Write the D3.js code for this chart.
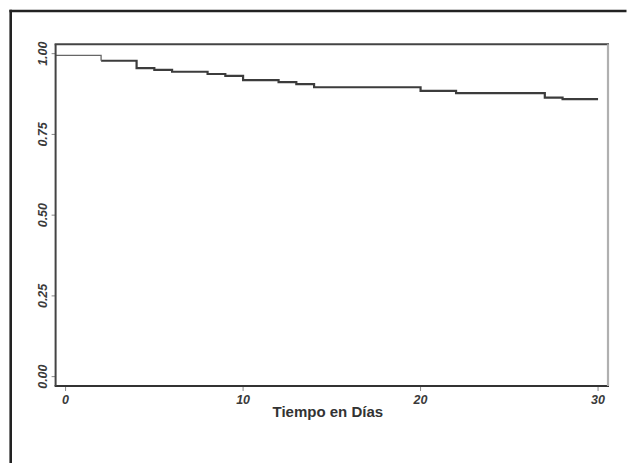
<!DOCTYPE html>
<html lang="es">
<head>
  <meta charset="UTF-8">
  <title>Kaplan-Meier</title>
  <script src="https://d3js.org/d3.v7.min.js"></script>
  <style>
    html, body { margin: 0; background: #fff; overflow: hidden; }
    svg { display: block; }
    .tick-lbl { font-family: 'Liberation Sans', Arial, sans-serif; font-weight: bold; font-style: italic; font-size: 12.5px; fill: #3a3a3a; }
    .axis-title { font-family: 'Liberation Sans', Arial, sans-serif; font-weight: bold; font-size: 15px; fill: #333; }
  </style>
</head>
<body>
<div id="chart"></div>
<script>
  // step times (days) and survival after each step
  const times = [0, 2, 4, 5, 6, 8, 9, 10, 12, 13, 14, 20, 22, 27, 28];
  const survival = [0.995, 0.978, 0.955, 0.950, 0.944, 0.937, 0.931, 0.918, 0.912, 0.906, 0.896, 0.885, 0.878, 0.864, 0.859];
  const endTime = 30;
  const xTicks = [0, 10, 20, 30];
  const yTicks = [0, 0.25, 0.5, 0.75, 1];
  const xTitle = "Tiempo en Días";

  const W = 627, H = 463;
  const plot = { left: 55.6, top: 44.3, right: 608, bottom: 386 };

  const svg = d3.select("#chart").append("svg").attr("width", W).attr("height", H);

  // outer frame, only top and left edges are in view
  svg.append("line").attr("x1", 10.7).attr("x2", 10.7).attr("y1", 9.7).attr("y2", H)
    .attr("stroke", "#222").attr("stroke-width", 2.6);
  svg.append("line").attr("x1", 9.4).attr("x2", W - 0.5).attr("y1", 11).attr("y2", 11)
    .attr("stroke", "#222").attr("stroke-width", 2.6);

  const x = d3.scaleLinear().domain([-0.563, 30.56]).range([plot.left, plot.right]);
  const y = d3.scaleLinear().domain([-0.029, 1.029]).range([plot.bottom, plot.top]);

  // ticks
  svg.append("g").selectAll("line").data(xTicks).join("line")
    .attr("x1", d => x(d)).attr("x2", d => x(d))
    .attr("y1", plot.bottom).attr("y2", plot.bottom + 5)
    .attr("stroke", "#888").attr("stroke-width", 1);
  svg.append("g").selectAll("line").data(yTicks).join("line")
    .attr("x1", plot.left - 4).attr("x2", plot.left)
    .attr("y1", d => y(d)).attr("y2", d => y(d))
    .attr("stroke", "#888").attr("stroke-width", 1);

  svg.append("g").selectAll("text").data(xTicks).join("text")
    .attr("class", "tick-lbl")
    .attr("x", d => x(d)).attr("y", plot.bottom + 18)
    .attr("text-anchor", "middle")
    .text(d => d);

  svg.append("g").selectAll("text").data(yTicks).join("text")
    .attr("class", "tick-lbl")
    .attr("transform", d => `translate(${plot.left - 9},${y(d)}) rotate(-90)`)
    .attr("text-anchor", "middle")
    .text(d => d3.format(".2f")(d));

  svg.append("text")
    .attr("class", "axis-title")
    .attr("x", (plot.left + plot.right) / 2 - 4)
    .attr("y", plot.bottom + 31)
    .attr("text-anchor", "middle")
    .text(xTitle);

  // survival step curve
  const pts = times.map((t, i) => [t, survival[i]]);
  pts.push([endTime, survival[survival.length - 1]]);
  pts[0] = [x.domain()[0], survival[0]];
  const line = d3.line().x(d => x(d[0])).y(d => y(d[1])).curve(d3.curveStepAfter);
  svg.append("path")
    .attr("d", line(pts.slice(1)))
    .attr("fill", "none").attr("stroke", "#3c3c3c").attr("stroke-width", 2.2);
  svg.append("path")
    .attr("d", line(pts.slice(0, 2)))
    .attr("fill", "none").attr("stroke", "#666").attr("stroke-width", 1.3);

  // plot frame: dark on three sides, light grey on the right
  const frame = svg.append("g");
  frame.append("line").attr("x1", plot.left - 1).attr("x2", plot.right + 1)
    .attr("y1", plot.top).attr("y2", plot.top).attr("stroke", "#444").attr("stroke-width", 2);
  frame.append("line").attr("x1", plot.left - 1).attr("x2", plot.right + 1)
    .attr("y1", plot.bottom).attr("y2", plot.bottom).attr("stroke", "#333").attr("stroke-width", 2);
  frame.append("line").attr("x1", plot.left).attr("x2", plot.left)
    .attr("y1", plot.top).attr("y2", plot.bottom).attr("stroke", "#444").attr("stroke-width", 2);
  frame.append("line").attr("x1", plot.right).attr("x2", plot.right)
    .attr("y1", plot.top).attr("y2", plot.bottom).attr("stroke", "#b0b0b0").attr("stroke-width", 2.2);
</script>
</body>
</html>
